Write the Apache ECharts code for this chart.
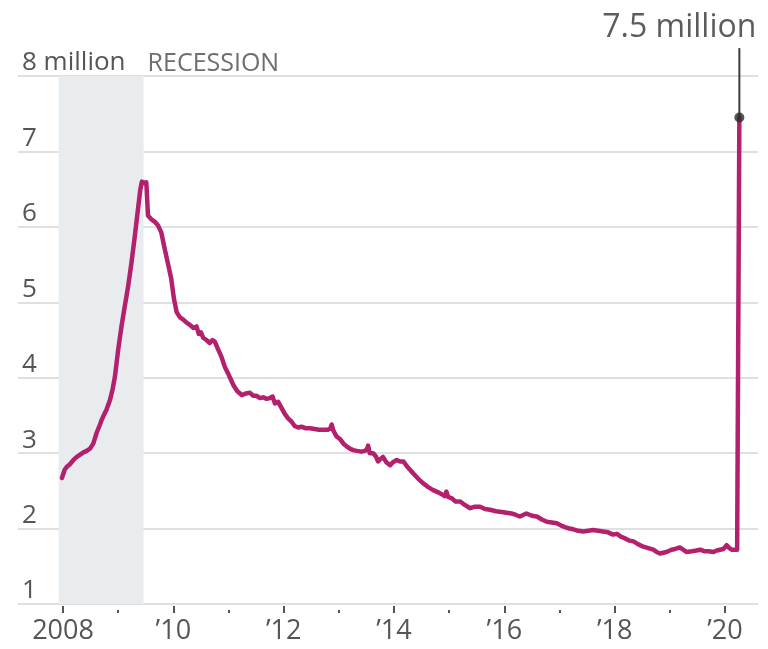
<!DOCTYPE html>
<html>
<head>
<meta charset="utf-8">
<title>Continuing jobless claims</title>
<script src="https://cdn.jsdelivr.net/npm/echarts@6/dist/echarts.min.js"></script>
<style>
  html, body { margin: 0; padding: 0; background: #ffffff; }
  #chart { width: 768px; height: 649px; }
</style>
</head>
<body>
<div id="chart"></div>
<script>
// Weekly continuing claims, seasonally adjusted (millions), dated in decimal years
const weekDates = [
  2007.98, 2008.03, 2008.07, 2008.12, 2008.19, 2008.25, 2008.31, 2008.37, 2008.43, 2008.49,
  2008.55, 2008.61, 2008.67, 2008.70, 2008.75, 2008.79, 2008.85, 2008.90, 2008.94, 2009.00,
  2009.06, 2009.12, 2009.18, 2009.24, 2009.30, 2009.35, 2009.40, 2009.43, 2009.47, 2009.51,
  2009.54, 2009.60, 2009.66, 2009.72, 2009.78, 2009.84, 2009.90, 2009.96, 2010.01, 2010.06,
  2010.12, 2010.18, 2010.24, 2010.30, 2010.36, 2010.42, 2010.46, 2010.50, 2010.54, 2010.60,
  2010.66, 2010.71, 2010.75, 2010.81, 2010.87, 2010.93, 2010.99, 2011.04, 2011.09, 2011.16,
  2011.24, 2011.31, 2011.39, 2011.45, 2011.51, 2011.57, 2011.63, 2011.69, 2011.75, 2011.80,
  2011.84, 2011.90, 2011.96, 2012.02, 2012.08, 2012.14, 2012.20, 2012.26, 2012.32, 2012.40,
  2012.48, 2012.56, 2012.64, 2012.72, 2012.80, 2012.85, 2012.87, 2012.90, 2012.96, 2013.03,
  2013.09, 2013.14, 2013.20, 2013.26, 2013.33, 2013.41, 2013.47, 2013.51, 2013.53, 2013.56,
  2013.62, 2013.67, 2013.71, 2013.75, 2013.80, 2013.86, 2013.93, 2013.98, 2014.05, 2014.11,
  2014.17, 2014.23, 2014.29, 2014.35, 2014.44, 2014.53, 2014.62, 2014.71, 2014.80, 2014.88,
  2014.92, 2014.95, 2014.98, 2015.05, 2015.11, 2015.20, 2015.29, 2015.38, 2015.47, 2015.56,
  2015.65, 2015.74, 2015.85, 2015.95, 2016.04, 2016.13, 2016.21, 2016.28, 2016.34, 2016.40,
  2016.50, 2016.59, 2016.68, 2016.77, 2016.86, 2016.95, 2017.03, 2017.10, 2017.18, 2017.25,
  2017.34, 2017.43, 2017.52, 2017.61, 2017.70, 2017.79, 2017.88, 2017.97, 2018.04, 2018.12,
  2018.19, 2018.27, 2018.34, 2018.43, 2018.52, 2018.61, 2018.70, 2018.76, 2018.82, 2018.88,
  2018.94, 2019.03, 2019.10, 2019.18, 2019.24, 2019.30, 2019.40, 2019.48, 2019.55, 2019.62,
  2019.70, 2019.79, 2019.85, 2019.91, 2019.97, 2020.03, 2020.08, 2020.12, 2020.17, 2020.22,
  2020.26
];
const claimsMillions = [
  2.67, 2.78, 2.82, 2.85, 2.91, 2.95, 2.98, 3.01, 3.03, 3.06,
  3.13, 3.27, 3.38, 3.44, 3.52, 3.58, 3.70, 3.85, 4.01, 4.37,
  4.68, 4.95, 5.21, 5.52, 5.87, 6.18, 6.49, 6.60, 6.58, 6.59,
  6.15, 6.10, 6.07, 6.02, 5.93, 5.72, 5.52, 5.32, 5.05, 4.87,
  4.80, 4.77, 4.73, 4.70, 4.66, 4.68, 4.58, 4.60, 4.53, 4.50,
  4.46, 4.50, 4.48, 4.38, 4.28, 4.15, 4.06, 3.98, 3.90, 3.82,
  3.77, 3.79, 3.80, 3.76, 3.76, 3.73, 3.74, 3.72, 3.73, 3.75,
  3.66, 3.68, 3.60, 3.52, 3.46, 3.42, 3.36, 3.34, 3.35, 3.33,
  3.33, 3.32, 3.31, 3.31, 3.31, 3.33, 3.38, 3.30, 3.22, 3.18,
  3.12, 3.09, 3.06, 3.04, 3.03, 3.02, 3.03, 3.05, 3.10, 3.00,
  3.00, 2.96, 2.89, 2.92, 2.95, 2.88, 2.84, 2.88, 2.91, 2.89,
  2.89, 2.83, 2.78, 2.73, 2.66, 2.60, 2.55, 2.51, 2.48, 2.45,
  2.43, 2.49, 2.42, 2.40, 2.36, 2.36, 2.31, 2.27, 2.29, 2.29,
  2.26, 2.25, 2.23, 2.22, 2.21, 2.20, 2.18, 2.16, 2.18, 2.20,
  2.17, 2.16, 2.12, 2.09, 2.08, 2.07, 2.04, 2.02, 2.00, 1.99,
  1.97, 1.96, 1.97, 1.98, 1.97, 1.96, 1.95, 1.92, 1.93, 1.89,
  1.87, 1.84, 1.83, 1.79, 1.76, 1.74, 1.72, 1.69, 1.67, 1.68,
  1.69, 1.72, 1.73, 1.75, 1.72, 1.69, 1.70, 1.71, 1.72, 1.70,
  1.70, 1.69, 1.71, 1.72, 1.73, 1.78, 1.74, 1.72, 1.72, 1.72,
  7.45
];

// Recession span (Dec 2007 – Jun 2009)
const recession = [2007.92, 2009.46];
const recessionText = 'RECESSION';

// Axis ticks and labels
const yTicks = [1, 2, 3, 4, 5, 6, 7, 8];
const labeledYears = [2008, 2010, 2012, 2014, 2016, 2018, 2020];
const oddYears = [2009, 2011, 2013, 2015, 2017, 2019];
const calloutText = '7.5 million';
const calloutTop = 8.37;   // where the leader line ends, above the plot

const FONT = '"Open Sans", "Noto Sans", sans-serif';
const lastX = weekDates[weekDates.length - 1];
const lastY = claimsMillions[claimsMillions.length - 1];

const chart = echarts.init(document.getElementById('chart'), null, { renderer: 'canvas' });

const yearLabel = v => (v === 2008 ? '2008' : '\u2019' + String(v).slice(2));

chart.setOption({
  animation: false,
  backgroundColor: '#ffffff',
  textStyle: { fontFamily: FONT },
  grid: { left: 18, right: 10, top: 76, bottom: 45, containLabel: false },
  xAxis: [
    {
      type: 'value',
      min: 2007.184,
      max: 2020.598,
      axisLine: { show: false },
      splitLine: { show: false },
      offset: 2,
      axisTick: {
        show: true,
        customValues: labeledYears,
        length: 7,
        lineStyle: { color: '#555555', width: 2 }
      },
      axisLabel: {
        customValues: labeledYears,
        formatter: yearLabel,
        fontFamily: FONT,
        fontSize: 27,
        color: '#555555',
        margin: 12
      }
    },
    {
      type: 'value',
      min: 2007.184,
      max: 2020.598,
      position: 'bottom',
      offset: 6,
      axisLine: { show: false },
      splitLine: { show: false },
      axisTick: {
        show: true,
        customValues: oddYears,
        length: 3,
        lineStyle: { color: '#555555', width: 2 }
      },
      axisLabel: { show: false }
    }
  ],
  yAxis: {
    type: 'value',
    min: yTicks[0],
    max: yTicks[yTicks.length - 1],
    interval: 1,
    axisLine: { show: false },
    axisTick: { show: false },
    splitLine: { show: true, lineStyle: { color: '#e0e0e0', width: 2 } },
    axisLabel: {
      inside: true,
      margin: 4,
      verticalAlign: 'bottom',
      fontFamily: FONT,
      fontSize: 26,
      color: '#555555',
      formatter: v => (v === 8 ? '8 million' : String(v))
    }
  },
  series: [
    {
      name: 'Continuing claims',
      type: 'line',
      xAxisIndex: 0,
      data: weekDates.map((d, i) => [d, claimsMillions[i]]),
      showSymbol: false,
      symbol: 'none',
      lineStyle: { color: '#b3206d', width: 4.5, join: 'round', cap: 'round' },
      z: 3,
      markArea: {
        silent: true,
        itemStyle: { color: '#e9ecef' },
        label: {
          show: true,
          position: ['100%', 0],
          align: 'left',
          verticalAlign: 'bottom',
          padding: [0, 0, 0, 4],
          fontFamily: FONT,
          fontSize: 25,
          color: '#6e6e6e',
          formatter: recessionText
        },
        data: [[{ xAxis: recession[0] }, { xAxis: recession[1] }]]
      }
    },
    {
      name: 'leader',
      type: 'line',
      data: [[lastX, lastY], [lastX, calloutTop]],
      showSymbol: false,
      symbol: 'none',
      clip: false,
      lineStyle: { color: '#3c3c3c', width: 2 },
      z: 4,
      silent: true
    },
    {
      name: 'latest',
      type: 'scatter',
      data: [[lastX, lastY]],
      symbol: 'circle',
      symbolSize: 10,
      clip: false,
      itemStyle: { color: '#2a2a2a' },
      z: 5,
      silent: true
    },
    {
      name: 'callout',
      type: 'scatter',
      data: [[lastX, calloutTop]],
      symbolSize: 0,
      clip: false,
      silent: true,
      label: {
        show: true,
        position: 'top',
        align: 'right',
        offset: [17, 0],
        distance: 4,
        fontFamily: FONT,
        fontSize: 32,
        color: '#333333',
        formatter: calloutText
      }
    }
  ]
});
</script>
</body>
</html>
